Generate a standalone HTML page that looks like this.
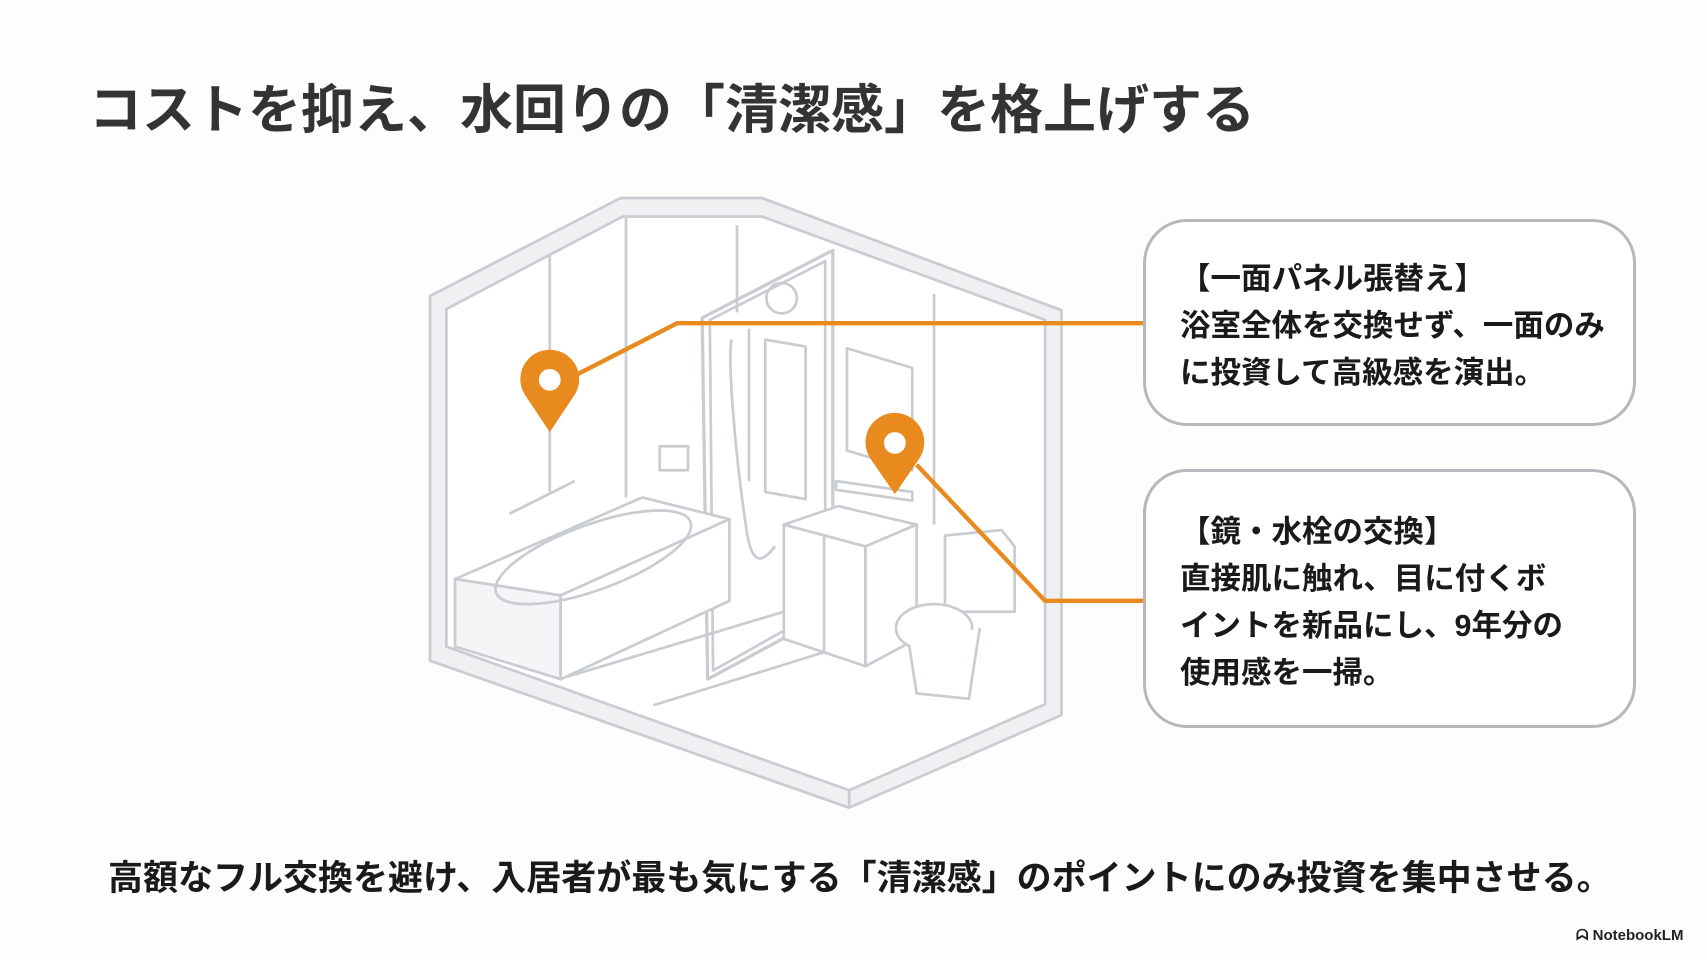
<!DOCTYPE html>
<html><head><meta charset="utf-8"><style>
html,body{margin:0;padding:0;}
body{width:1707px;height:960px;position:relative;overflow:hidden;background:#fdfdfc;font-family:"Liberation Sans","Noto Sans CJK JP",sans-serif;}
.t{position:absolute;white-space:nowrap;font-weight:bold;}
.box{position:absolute;border:3px solid #b5b9bd;border-radius:44px;background:#fff;box-sizing:border-box;}
.bt{position:absolute;left:34px;font-size:30.5px;font-weight:bold;color:#1a1a1a;line-height:47px;white-space:nowrap;}
</style></head><body>
<svg style="position:absolute;left:0;top:0" width="1707" height="960" viewBox="0 0 1568 878">
<g fill="none" stroke="#c9cdd1" stroke-width="2.5" stroke-linejoin="round">
<polygon points="395,270 570,180 700,180 975,283 975,655 780,740 395,605" fill="#eef0f2"/>
<polygon points="410,282 572,197 700,197 960,292 960,645 780,724 410,592" fill="#fff"/>
<line x1="505" y1="233" x2="505" y2="450"/>
<line x1="575" y1="197" x2="575" y2="455"/>
<line x1="677" y1="205" x2="677" y2="285"/>
<line x1="765" y1="235" x2="765" y2="555"/>
<line x1="858" y1="268" x2="858" y2="480"/>
<line x1="520" y1="620" x2="720" y2="560"/>
<line x1="600" y1="646" x2="780" y2="590"/>
<line x1="780" y1="724" x2="780" y2="740"/>
<polygon points="645,290 765,228 765,560 650,622" stroke-width="3"/>
<polygon points="652,292 758,238 758,556 655,614"/>
<rect x="703" y="310" width="37" height="140" transform="skewY(10)" transform-origin="703 310"/>
<polygon points="778,318 838,336 838,430 778,412"/>
<polygon points="418,530 590,455 670,475 515,545" fill="#fff"/>
<polygon points="418,530 515,545 515,622 418,592" fill="#f4f5f6"/>
<polygon points="515,545 670,475 670,550 515,622" fill="#fff"/>
<ellipse cx="545" cy="510" rx="95" ry="30" transform="rotate(-20 545 510)"/>
<path d="M468 470 L528 440"/>
<rect x="606" y="408" width="26" height="22"/>
<polygon points="720,480 770,463 842,480 795,500" fill="#fff"/>
<polygon points="720,480 795,500 795,610 720,585" fill="#fff"/>
<polygon points="795,500 842,480 842,585 795,610" fill="#fff"/>
<line x1="757" y1="490" x2="757" y2="597"/>
<polygon points="868,490 920,485 932,500 932,560 868,560" fill="#fff"/>
<ellipse cx="858" cy="575" rx="35" ry="22" fill="#fff"/>
<path d="M835 590 L842 635 L890 640 L900 575" fill="#fff"/>
<path d="M672 310 C668 330 676 420 685 480 C690 520 700 515 712 500"/>
<line x1="688" y1="300" x2="688" y2="440"/>
<circle cx="718" cy="272" r="14"/>
<path d="M768 440 L838 450 L838 458 L768 448 Z"/>
</g>
<g stroke="#e98a1f" stroke-width="4" fill="none" stroke-linejoin="round">
<polyline points="530,342 622,295 1050,295"/>
<polyline points="842,425 960,550 1050,550"/>
</g>
<path d="M505 395 L483 362 A27 27 0 1 1 527 362 Z" fill="#e98a1f"/>
<circle cx="505" cy="347" r="10" fill="#fff"/>
<path d="M822 452 L800 420 A27 27 0 1 1 844 420 Z" fill="#e98a1f"/>
<circle cx="822" cy="405" r="10" fill="#fff"/>
</svg>
<div class="t" style="left:89px;top:68px;font-size:53px;color:#333;">コストを抑え、水回りの「清潔感」を格上げする</div>
<div class="box" style="left:1143px;top:219px;width:493px;height:207px;">
<div class="bt" style="top:34px;">【一面パネル張替え】<br>浴室全体を交換せず、一面のみ<br>に投資して高級感を演出。</div>
</div>
<div class="box" style="left:1143px;top:469px;width:493px;height:259px;">
<div class="bt" style="top:37px;">【鏡・水栓の交換】<br>直接肌に触れ、目に付くボ<br>イントを新品にし、9年分の<br>使用感を一掃。</div>
</div>
<div class="t" style="left:108px;top:850px;font-size:35px;color:#1a1a1a;">高額なフル交換を避け、入居者が最も気にする「清潔感」のポイントにのみ投資を集中させる。</div>
<div class="t" style="left:1576px;top:927px;font-size:15px;color:#222;">ᗣ NotebookLM</div>
</body></html>
